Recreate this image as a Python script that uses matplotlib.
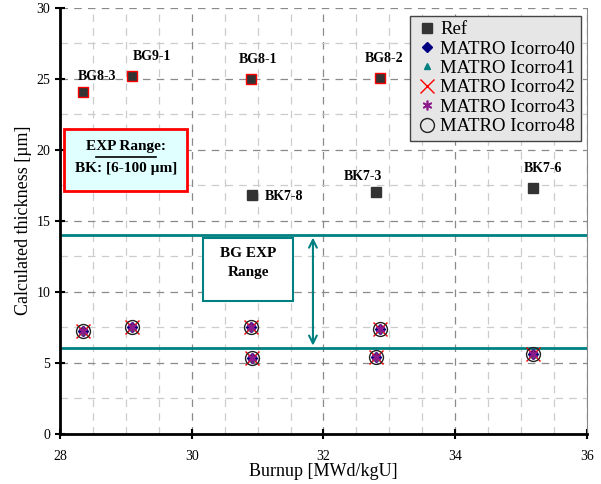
#!/usr/bin/env python3
import numpy as np
import matplotlib.pyplot as plt
from matplotlib.ticker import MultipleLocator
from matplotlib.patches import FancyArrowPatch

# Reference values
bg_names = ["BG8-3", "BG9-1", "BG8-1", "BG8-2"]
bg_burnup = [28.35, 29.1, 30.9, 32.86]
bg_thick = [24.06, 25.17, 25.0, 25.03]

bk_names = ["BK7-8", "BK7-3", "BK7-6"]
bk_burnup = [30.91, 32.8, 35.18]
bk_thick = [16.83, 17.02, 17.3]

# MATRO calculations (all Icorro variants overlap)
matro_burnup = [28.35, 29.1, 30.9, 30.91, 32.86, 32.8, 35.18]
matro_thick = [7.22, 7.5, 7.49, 5.31, 7.36, 5.38, 5.59]

bg_range = [6, 14]

plt.rcParams['font.family'] = ['Liberation Serif', 'DejaVu Serif']

fig = plt.figure(figsize=(6.01, 4.84), dpi=100)
ax = fig.add_axes([0.0998, 0.104, 0.8769, 0.8805])

ax.set_xlim(28, 36)
ax.set_ylim(0, 30)
ax.xaxis.set_major_locator(MultipleLocator(2))
ax.xaxis.set_minor_locator(MultipleLocator(0.5))
ax.yaxis.set_major_locator(MultipleLocator(5))
ax.yaxis.set_minor_locator(MultipleLocator(2.5))
ax.grid(which='major', color='#8a8a8a', linestyle=(0, (6, 5)), linewidth=0.9)
ax.grid(which='minor', color='#cccccc', linestyle=(0, (6, 5)), linewidth=0.9)
ax.set_axisbelow(True)
ax.tick_params(which='major', direction='inout', length=7, width=1.5, labelsize=10)
ax.tick_params(which='minor', length=0)
ax.tick_params(axis='x', pad=8)

ax.spines['top'].set_visible(False)
ax.spines['right'].set_color('#888888')
ax.spines['left'].set_linewidth(2)
ax.spines['bottom'].set_linewidth(2)

# BG experimental range lines
for yv in bg_range:
    ax.axhline(yv, color='#008080', linewidth=2, zorder=2)
arrow = FancyArrowPatch((31.84, bg_range[1]), (31.84, bg_range[0]), arrowstyle='<->',
                        mutation_scale=14, color='#008080', linewidth=1.5, zorder=3)
ax.add_patch(arrow)

# Reference points
ax.plot(bk_burnup, bk_thick, 's', color='#333333', markersize=6.5, linestyle='none',
        label='Ref', zorder=4)
ax.plot(bg_burnup, bg_thick, 's', color='#333333', markeredgecolor='red', markeredgewidth=1,
        markersize=7, linestyle='none', zorder=4)

# MATRO series
ax.plot(matro_burnup, matro_thick, 'D', color='#000080', markersize=5.5, linestyle='none',
        label='MATRO Icorro40', zorder=5)
ax.plot(matro_burnup, matro_thick, '^', color='#008080', markersize=5, linestyle='none',
        label='MATRO Icorro41', zorder=5)
ax.plot(matro_burnup, matro_thick, 'x', color='red', markersize=9.5, markeredgewidth=1,
        linestyle='none', label='MATRO Icorro42', zorder=5)
ax.plot(matro_burnup, matro_thick, marker=(6, 2, 0), color='#8b1a8b', markersize=7,
        markeredgewidth=1.2, linestyle='none', label='MATRO Icorro43', zorder=6)
ax.plot(matro_burnup, matro_thick, 'o', markerfacecolor='none', markeredgecolor='#222222',
        markersize=10, markeredgewidth=1, linestyle='none', label='MATRO Icorro48', zorder=6)

# Point labels
label_offsets = {
    "BG8-3": (0.22, 1.1), "BG9-1": (0.3, 1.35), "BG8-1": (0.1, 1.35), "BG8-2": (0.06, 1.35),
}
for name, x, y in zip(bg_names, bg_burnup, bg_thick):
    dx, dy = label_offsets[name]
    ax.text(x + dx, y + dy, name, ha='center', va='center', fontsize=10, fontweight='bold')
ax.text(bk_burnup[0] + 0.2, bk_thick[0] - 0.15, bk_names[0], ha='left', va='center',
        fontsize=10, fontweight='bold')
ax.text(bk_burnup[1] - 0.2, bk_thick[1] + 1.1, bk_names[1], ha='center', va='center',
        fontsize=10, fontweight='bold')
ax.text(bk_burnup[2] + 0.15, bk_thick[2] + 1.4, bk_names[2], ha='center', va='center',
        fontsize=10, fontweight='bold')

# Annotation boxes
ax.text(29.0, 20.2, "EXP Range:", ha='center', va='center', fontsize=11, fontweight='bold')
ax.plot([28.55, 29.45], [19.5, 19.5], color='black', linewidth=1.2, zorder=7)
ax.text(29.0, 18.7, "BK: [6-100 µm]", ha='center', va='center', fontsize=11, fontweight='bold')
ax.add_patch(plt.Rectangle((28.06, 17.1), 1.87, 4.33, facecolor='#e0ffff', edgecolor='red',
                           linewidth=2, zorder=1.5))

ax.text(30.86, 12.0, "BG EXP\nRange", ha='center', va='center', fontsize=11, fontweight='bold',
        linespacing=1.6)
ax.add_patch(plt.Rectangle((30.17, 9.35), 1.37, 4.4, facecolor='white', edgecolor='#008080',
                           linewidth=1.5, zorder=2.5))

ax.set_xlabel("Burnup [MWd/kgU]", fontsize=13, labelpad=0)
ax.set_ylabel("Calculated thickness [µm]", fontsize=13, labelpad=3)

leg = ax.legend(loc='upper right', bbox_to_anchor=(0.995, 0.99), fontsize=13.5, frameon=True,
                fancybox=False, handletextpad=0.1, handlelength=1.2, borderpad=0.3,
                labelspacing=0.12, borderaxespad=0.2)
leg.get_frame().set_facecolor('#e6e6e6')
leg.get_frame().set_edgecolor('#444444')
leg.get_frame().set_alpha(1)

fig.savefig('out.png', dpi=100)
